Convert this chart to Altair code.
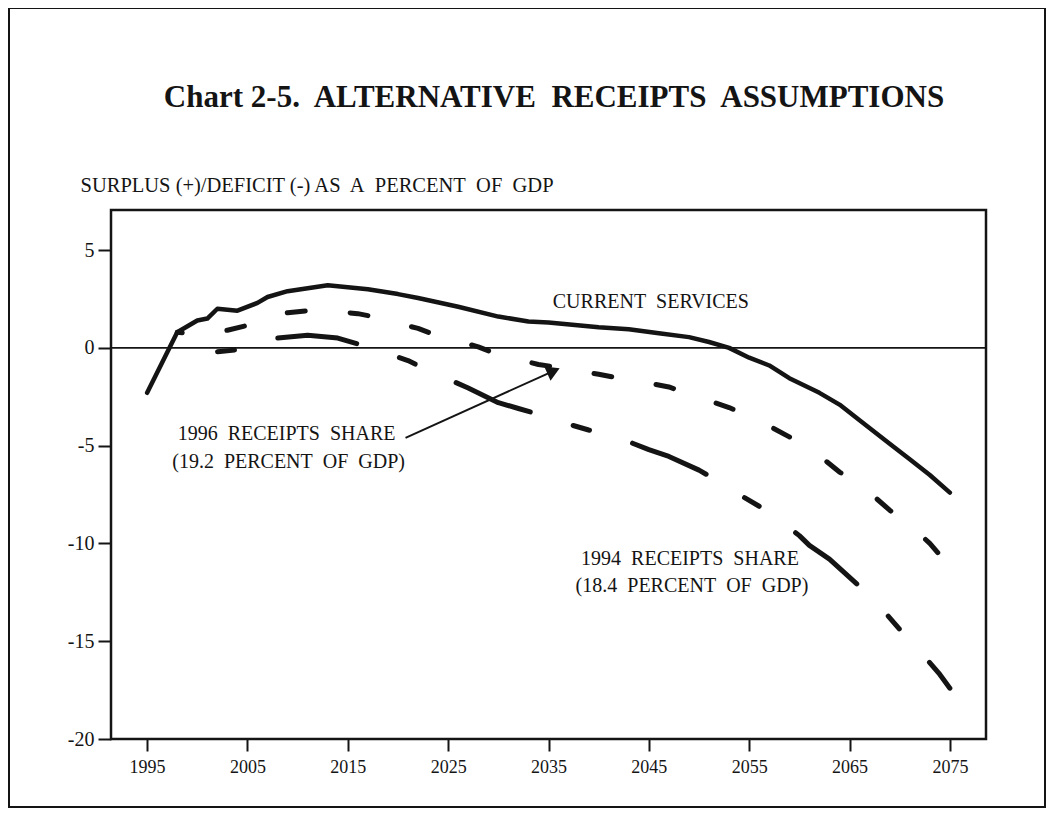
import altair as alt
import pandas as pd

# ---- data ----
years_cs = [1995, 1998, 2000, 2001, 2002, 2004, 2006, 2007, 2009, 2011, 2013, 2015, 2017,
            2020, 2022, 2026, 2030, 2033, 2035, 2040, 2043, 2046, 2049, 2051, 2053, 2055,
            2057, 2059, 2062, 2064, 2066, 2069, 2071, 2073, 2075]
vals_cs = [-2.3, 0.8, 1.4, 1.5, 2.0, 1.9, 2.3, 2.6, 2.9, 3.05, 3.2, 3.1, 3.0,
           2.75, 2.55, 2.1, 1.6, 1.35, 1.3, 1.05, 0.95, 0.75, 0.55, 0.3, 0.0, -0.5,
           -0.9, -1.55, -2.3, -2.9, -3.7, -4.9, -5.7, -6.5, -7.4]

years_96 = [1998, 2000, 2003, 2005, 2007, 2009, 2011, 2013, 2016, 2018, 2020, 2022, 2024,
            2026, 2028, 2030, 2032, 2034, 2036, 2038, 2040, 2042, 2045, 2047, 2049, 2051,
            2053, 2055, 2057, 2059, 2061, 2064, 2066, 2069, 2071, 2073, 2075]
vals_96 = [0.8, 0.7, 0.9, 1.15, 1.5, 1.8, 1.9, 1.9, 1.75, 1.55, 1.25, 1.0, 0.6,
           0.35, 0.05, -0.35, -0.6, -0.85, -1.0, -1.2, -1.35, -1.55, -1.8, -2.0, -2.35, -2.7,
           -3.05, -3.5, -4.0, -4.55, -5.1, -6.35, -6.95, -8.3, -9.05, -10.0, -11.2]

years_94 = [1998, 2000, 2002, 2004, 2006, 2008, 2011, 2014, 2016, 2017, 2019, 2021, 2023,
            2025, 2027, 2030, 2032, 2035, 2037, 2039, 2041, 2043, 2045, 2047, 2050, 2052,
            2054, 2056, 2058, 2060, 2061, 2063, 2066, 2068, 2070, 2072, 2074, 2075]
vals_94 = [0.8, 0.4, -0.2, -0.1, 0.25, 0.5, 0.65, 0.5, 0.2, 0.0, -0.3, -0.65, -1.15,
           -1.6, -2.05, -2.8, -3.1, -3.55, -3.9, -4.2, -4.45, -4.8, -5.2, -5.55, -6.25, -6.85,
           -7.5, -8.1, -8.8, -9.6, -10.1, -10.8, -12.2, -13.2, -14.4, -15.5, -16.7, -17.4]

x_ticks = [1995, 2005, 2015, 2025, 2035, 2045, 2055, 2065, 2075]
y_ticks = [5, 0, -5, -10, -15, -20]

label_text = ["CURRENT\u00a0 SERVICES",
              "1996\u00a0 RECEIPTS\u00a0 SHARE", "(19.2\u00a0 PERCENT\u00a0 OF\u00a0 GDP)",
              "1994\u00a0 RECEIPTS\u00a0 SHARE", "(18.4\u00a0 PERCENT\u00a0 OF\u00a0 GDP)"]
label_x = [2045.2, 2008.9, 2009.1, 2049.1, 2049.3]
label_y = [2.35, -4.4, -5.83, -10.8, -12.17]

arrow_x = [2020.75, 2035.2]
arrow_y = [-4.6, -1.25]
head_x = [2035.5]
head_y = [-1.18]

TITLE = "Chart 2-5.\u00a0 ALTERNATIVE\u00a0 RECEIPTS\u00a0 ASSUMPTIONS"
YTITLE = "SURPLUS (+)/DEFICIT (-) AS\u00a0 A\u00a0 PERCENT\u00a0 OF\u00a0 GDP"

FONT = "Liberation Serif"
INK = "#141414"

cs = pd.DataFrame({"x": years_cs, "y": vals_cs})
s96 = pd.DataFrame({"x": years_96, "y": vals_96})
s94 = pd.DataFrame({"x": years_94, "y": vals_94})
labels = pd.DataFrame({"x": label_x, "y": label_y, "t": label_text})
arrow = pd.DataFrame({"x": arrow_x, "y": arrow_y})
head = pd.DataFrame({"x": head_x, "y": head_y})

xscale = alt.Scale(domain=[1991.4, 2078.6], nice=False, zero=False)
yscale = alt.Scale(domain=[-20, 7.05], nice=False, zero=False)

xaxis = alt.Axis(values=x_ticks, format="d", grid=False, domain=False,
                 tickSize=12, tickWidth=2, tickColor=INK,
                 labelFont=FONT, labelFontSize=18, labelColor=INK, labelPadding=7,
                 labelFlush=False)
yaxis = alt.Axis(values=y_ticks, grid=False, domain=False,
                 tickSize=13, tickWidth=2, tickColor=INK,
                 labelExpr="datum.value < 0 ? '-' + abs(datum.value) : '' + datum.value",
                 labelFont=FONT, labelFontSize=20, labelColor=INK, labelPadding=4,
                 title=YTITLE, titleAngle=0, titleAlign="left", titleBaseline="alphabetic",
                 titleX=-31, titleY=-19, titleFont=FONT, titleFontSize=20.5,
                 titleFontWeight="normal", titleColor=INK)

X = alt.X("x:Q", scale=xscale, axis=xaxis, title=None)
Y = alt.Y("y:Q", scale=yscale, axis=yaxis)

one = alt.Data(values=[{"a": 1}])

frame = alt.Chart(one).mark_rect(filled=False, stroke=INK, strokeWidth=2).encode(
    x=alt.value(-102), x2=alt.value(934), y=alt.value(-202), y2=alt.value(597))

title = alt.Chart(one).mark_text(text=TITLE, font=FONT, fontSize=31, fontWeight="bold",
                                 color=INK, align="center", baseline="middle").encode(
    x=alt.value(443), y=alt.value(-112))

zero = alt.Chart(one).mark_rule(color=INK, strokeWidth=1.8).encode(y=alt.Y(datum=0))

line_cs = alt.Chart(cs).mark_line(color=INK, strokeWidth=4.5, strokeJoin="round",
                                  strokeCap="round").encode(x=X, y=Y)
line_96 = alt.Chart(s96).mark_line(color=INK, strokeWidth=5, strokeJoin="round",
                                   strokeCap="round", strokeDash=[18, 45],
                                   strokeDashOffset=13).encode(x=X, y=Y)
line_94 = alt.Chart(s94).mark_line(color=INK, strokeWidth=5, strokeJoin="round",
                                   strokeCap="round", strokeDash=[17, 45, 80, 45],
                                   strokeDashOffset=142).encode(x=X, y=Y)

texts = alt.Chart(labels).mark_text(font=FONT, fontSize=20, color=INK,
                                    align="center", baseline="middle").encode(
    x=X, y=Y, text="t:N")

arrow_line = alt.Chart(arrow).mark_line(color=INK, strokeWidth=2).encode(x=X, y=Y)
arrow_head = alt.Chart(head).mark_point(shape="triangle-right", filled=True, color=INK,
                                        size=240, angle=336, opacity=1).encode(x=X, y=Y)

chart = alt.layer(frame, title, zero, line_94, line_96, line_cs, arrow_line, arrow_head, texts).properties(
    width=875, height=529,
    padding={"left": 103, "top": 202, "right": 61, "bottom": 69},
    autosize=alt.AutoSizeParams(type="none"),
).configure(background="white").configure_view(stroke=INK, strokeWidth=2.5)

chart.save("out.html", embed_options={"renderer": "svg", "actions": False})
